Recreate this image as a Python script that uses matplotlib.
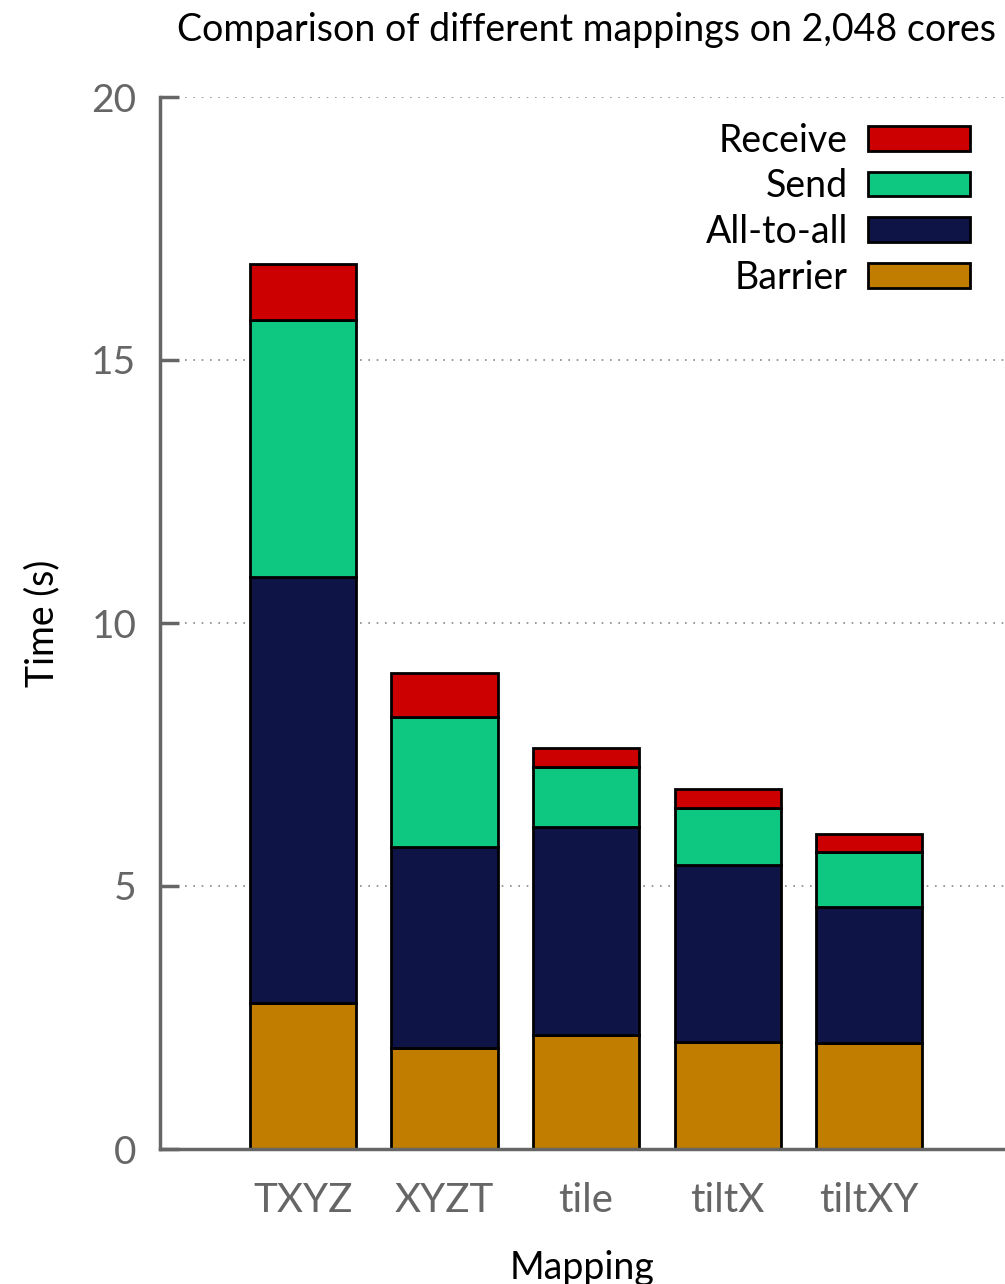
import matplotlib
matplotlib.use("Agg")
import matplotlib.pyplot as plt
import numpy as np

plt.rcParams['font.family'] = ['Lato', 'DejaVu Sans']

mappings = ["TXYZ", "XYZT", "tile", "tiltX", "tiltXY"]
barrier = [2.78, 1.92, 2.17, 2.03, 2.02]
all_to_all = [8.09, 3.82, 3.95, 3.37, 2.58]
send = [4.89, 2.47, 1.14, 1.08, 1.05]
receive = [1.07, 0.84, 0.36, 0.36, 0.34]

series_names = ["Barrier", "All-to-all", "Send", "Receive"]
series_colors = ["#c07d00", "#0f1446", "#0ec882", "#cc0000"]
y_ticks = [0, 5, 10, 15, 20]

fig = plt.figure(figsize=(10.05, 12.84), dpi=100)
ax = fig.add_axes([160 / 1005, 1 - 1149 / 1284, 1 - 160 / 1005, (1149 - 97) / 1284])

x = np.arange(len(mappings))
bottom = np.zeros(len(mappings))
handles = []
for name, vals, col in zip(series_names, [barrier, all_to_all, send, receive], series_colors):
    h = ax.bar(x, vals, width=0.75, bottom=bottom, color=col, edgecolor="black",
               linewidth=2, label=name, zorder=3)
    handles.append(h)
    bottom += np.array(vals)

ax.set_xlim(-1.01, 4.96)
ax.set_ylim(0, 20)
ax.set_yticks(y_ticks)
ax.set_xticks(x)
ax.set_xticklabels(mappings)

gray = "#666666"
for side in ["top", "right"]:
    ax.spines[side].set_visible(False)
for side in ["left", "bottom"]:
    ax.spines[side].set_color(gray)
    ax.spines[side].set_linewidth(2.5)
    ax.spines[side].set_zorder(4)

ax.tick_params(axis="y", direction="in", length=14, width=2.5, color=gray,
               labelcolor=gray, labelsize=28, pad=17)
ax.tick_params(axis="x", length=0, labelcolor=gray, labelsize=29, pad=24)

ax.yaxis.grid(True, linestyle=(0, (1, 4)), color="#888888", linewidth=1.2, zorder=0)
ax.set_axisbelow(True)

ax.set_ylabel("Time (s)", fontsize=27, labelpad=22, color="black")
ax.set_xlabel("Mapping", fontsize=27, labelpad=22, color="black")
fig.text(0.584, 1 - 30 / 1284, "Comparison of different mappings on 2,048 cores",
         ha="center", va="center", fontsize=27, color="black")

leg = ax.legend(handles[::-1], series_names[::-1], loc="upper right",
                bbox_to_anchor=(0.976, 0.99), frameon=False, markerfirst=False,
                fontsize=27, handlelength=2.7, handleheight=0.64, labelspacing=0.26,
                handletextpad=0.55, borderaxespad=0)
for t in leg.get_texts():
    t.set_ha("right")

fig.savefig("out.png", dpi=100)
